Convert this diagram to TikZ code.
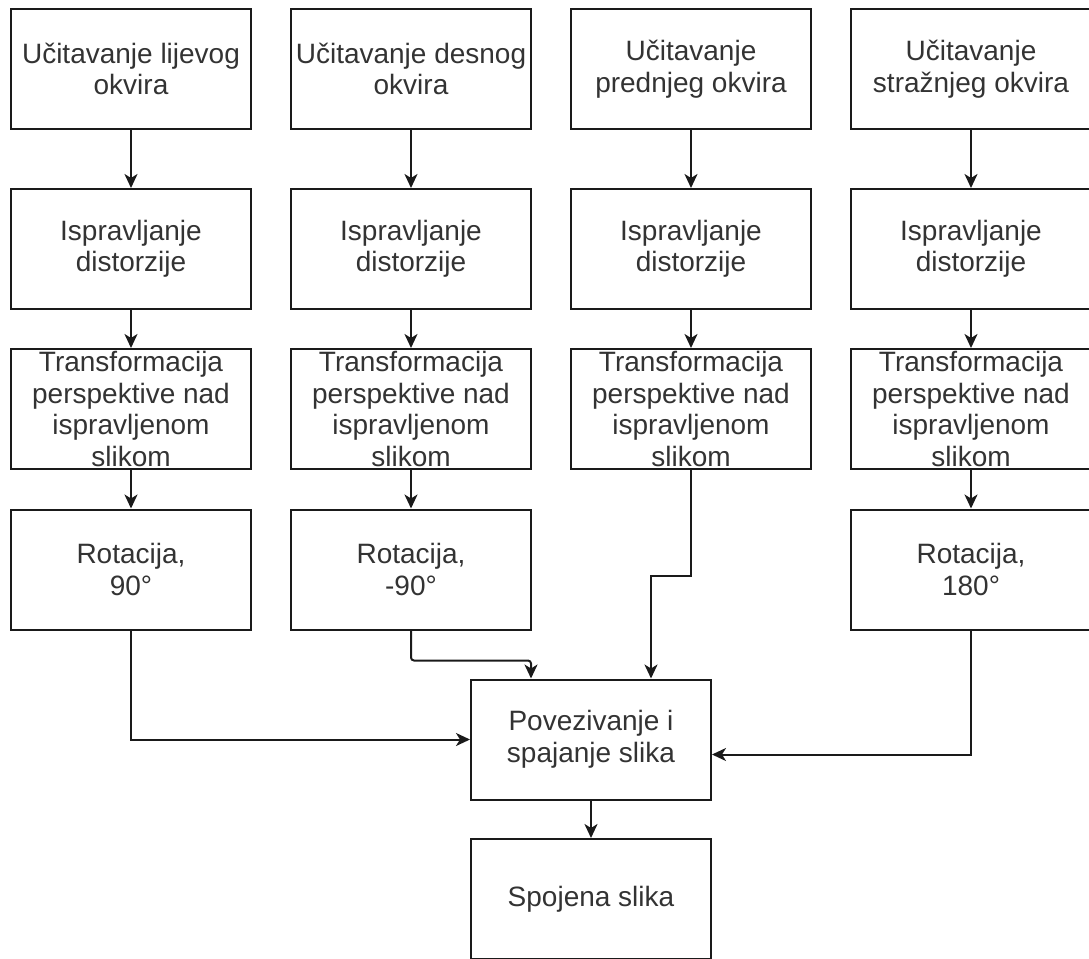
\documentclass[tikz,border=0pt]{standalone}
\usepackage{fontspec}
\setmainfont{Liberation Sans}
\usetikzlibrary{arrows.meta}
\definecolor{txt}{HTML}{333333}
\definecolor{ln}{HTML}{1A1A1A}
\tikzset{
  box/.style={draw=ln, line width=2pt, minimum width=240pt, minimum height=120pt,
    inner sep=0pt, align=center, text=txt,
    font=\fontsize{28}{31.5}\selectfont},
  conn/.style={draw=ln, line width=2pt,
    -{Stealth[length=14pt,width=13pt,inset=4pt]}}
}
\begin{document}
\begin{tikzpicture}[x=1pt,y=-1pt]
\useasboundingbox (0,0) rectangle (1089,958);
% column 1
\node[box] (l1) at (131,69) {Učitavanje lijevog\\okvira};
\node[box] (l2) at (131,249) {Ispravljanje\\distorzije};
\node[box] (l3) at (131,409) {Transformacija\\perspektive nad\\ispravljenom\\slikom};
\node[box] (l4) at (131,569.5) {Rotacija,\\90°};
% column 2
\node[box] (d1) at (411,69) {Učitavanje desnog\\okvira};
\node[box] (d2) at (411,249) {Ispravljanje\\distorzije};
\node[box] (d3) at (411,409) {Transformacija\\perspektive nad\\ispravljenom\\slikom};
\node[box] (d4) at (411,569.5) {Rotacija,\\-90°};
% column 3
\node[box] (p1) at (691,69) {Učitavanje\\prednjeg okvira};
\node[box] (p2) at (691,249) {Ispravljanje\\distorzije};
\node[box] (p3) at (691,409) {Transformacija\\perspektive nad\\ispravljenom\\slikom};
% column 4
\node[box] (s1) at (971,69) {Učitavanje\\stražnjeg okvira};
\node[box] (s2) at (971,249) {Ispravljanje\\distorzije};
\node[box] (s3) at (971,409) {Transformacija\\perspektive nad\\ispravljenom\\slikom};
\node[box] (s4) at (971,569.5) {Rotacija,\\180°};
% merge
\node[box] (m) at (591,739.5) {Povezivanje i\\spajanje slika};
\node[box] (f) at (591,899) {Spojena slika};
% vertical arrows
\foreach \c in {l,d,p,s}{
  \draw[conn] (\c1) -- (\c2);
  \draw[conn] (\c2) -- (\c3);
}
\draw[conn] (l3) -- (l4);
\draw[conn] (d3) -- (d4);
\draw[conn] (s3) -- (s4);
% into merge
\draw[conn] (l4.south) |- (m.west);
\draw[conn] (s4.south) |- ([yshift=-15pt]m.east);
\draw[conn, rounded corners=3pt] (d4.south) -- ++(0,30) -| ([xshift=-60pt]m.north);
\draw[conn] (p3.south) -- ++(0,106) -| ([xshift=60pt]m.north);
\draw[conn] (m) -- (f);
\end{tikzpicture}
\end{document}
